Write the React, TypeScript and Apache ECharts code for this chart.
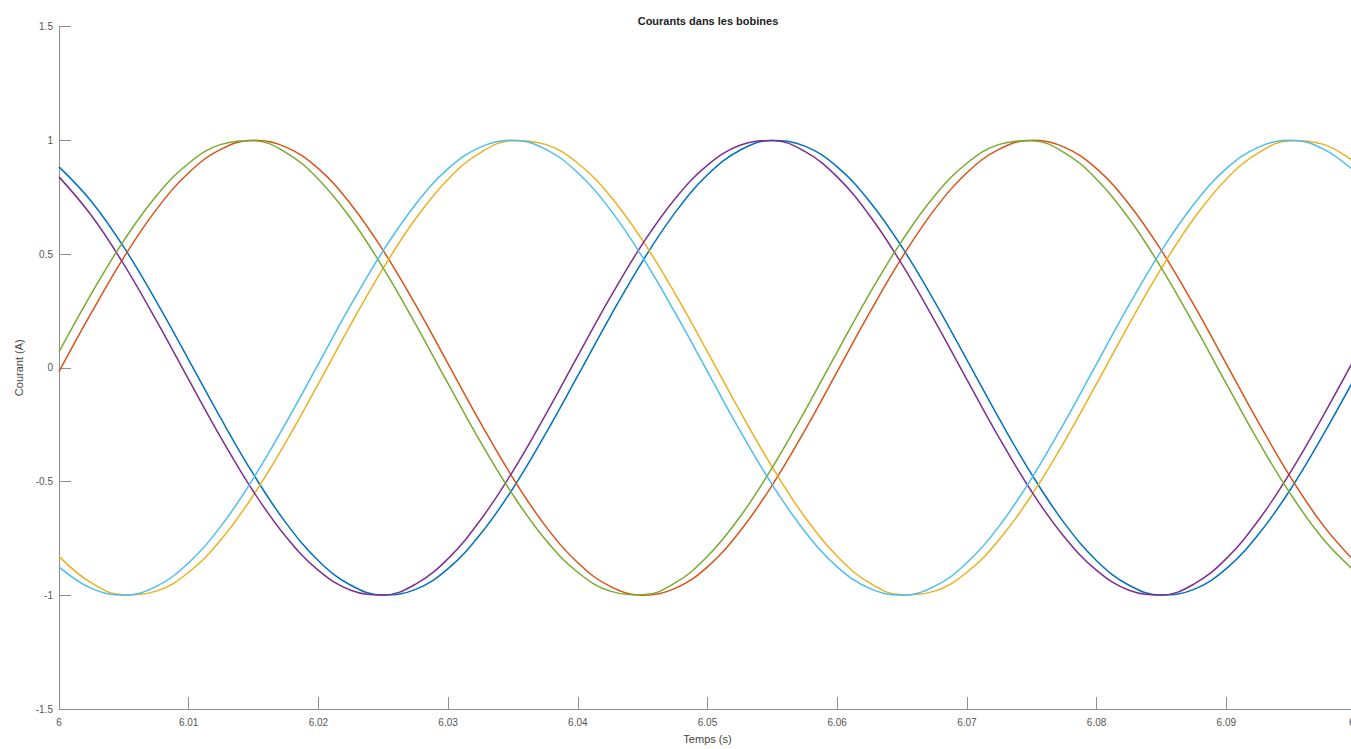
import React, { useEffect, useRef } from "react";
import * as echarts from "echarts";

const times = [
  6, 6.0025, 6.005, 6.0075, 6.01, 6.0125, 6.015, 6.0175, 6.02, 6.0225,
  6.025, 6.0275, 6.03, 6.0325, 6.035, 6.0375, 6.04, 6.0425, 6.045, 6.0475,
  6.05, 6.0525, 6.055, 6.0575, 6.06, 6.0625, 6.065, 6.0675, 6.07, 6.0725,
  6.075, 6.0775, 6.08, 6.0825, 6.085, 6.0875, 6.09, 6.0925, 6.095, 6.0975, 6.1,
];

const blueValues = [
  0.883, 0.731, 0.53, 0.292, 0.035, -0.225, -0.469, -0.682, -0.848, -0.956,
  -0.999, -0.974, -0.883, -0.731, -0.53, -0.292, -0.035, 0.225, 0.469, 0.682,
  0.848, 0.956, 0.999, 0.974, 0.883, 0.731, 0.53, 0.292, 0.035, -0.225,
  -0.469, -0.682, -0.848, -0.956, -0.999, -0.974, -0.883, -0.731, -0.53, -0.292, -0.035,
];

const orangeValues = [
  -0.017, 0.242, 0.485, 0.695, 0.857, 0.961, 1.0, 0.97, 0.875, 0.719,
  0.515, 0.276, 0.017, -0.242, -0.485, -0.695, -0.857, -0.961, -1.0, -0.97,
  -0.875, -0.719, -0.515, -0.276, -0.017, 0.242, 0.485, 0.695, 0.857, 0.961,
  1.0, 0.97, 0.875, 0.719, 0.515, 0.276, 0.017, -0.242, -0.485, -0.695, -0.857,
];

const yellowValues = [
  -0.829, -0.946, -0.998, -0.982, -0.899, -0.755, -0.559, -0.326, -0.07, 0.191,
  0.438, 0.656, 0.829, 0.946, 0.998, 0.982, 0.899, 0.755, 0.559, 0.326,
  0.07, -0.191, -0.438, -0.656, -0.829, -0.946, -0.998, -0.982, -0.899, -0.755,
  -0.559, -0.326, -0.07, 0.191, 0.438, 0.656, 0.829, 0.946, 0.998, 0.982, 0.899,
];

const purpleValues = [
  0.839, 0.669, 0.454, 0.208, -0.052, -0.309, -0.545, -0.743, -0.891, -0.978,
  -0.999, -0.951, -0.839, -0.669, -0.454, -0.208, 0.052, 0.309, 0.545, 0.743,
  0.891, 0.978, 0.999, 0.951, 0.839, 0.669, 0.454, 0.208, -0.052, -0.309,
  -0.545, -0.743, -0.891, -0.978, -0.999, -0.951, -0.839, -0.669, -0.454, -0.208, 0.052,
];

const greenValues = [
  0.07, 0.326, 0.559, 0.755, 0.899, 0.982, 0.998, 0.946, 0.829, 0.656,
  0.438, 0.191, -0.07, -0.326, -0.559, -0.755, -0.899, -0.982, -0.998, -0.946,
  -0.829, -0.656, -0.438, -0.191, 0.07, 0.326, 0.559, 0.755, 0.899, 0.982,
  0.998, 0.946, 0.829, 0.656, 0.438, 0.191, -0.07, -0.326, -0.559, -0.755, -0.899,
];

const cyanValues = [
  -0.875, -0.97, -1.0, -0.961, -0.857, -0.695, -0.485, -0.242, 0.017, 0.276,
  0.515, 0.719, 0.875, 0.97, 1.0, 0.961, 0.857, 0.695, 0.485, 0.242,
  -0.017, -0.276, -0.515, -0.719, -0.875, -0.97, -1.0, -0.961, -0.857, -0.695,
  -0.485, -0.242, 0.017, 0.276, 0.515, 0.719, 0.875, 0.97, 1.0, 0.961, 0.857,
];

const seriesNames = ["i1", "i2", "i3", "i4", "i5", "i6"];
const seriesColors = ["#0072BD", "#D95319", "#EDB120", "#7E2F8E", "#77AC30", "#4DBEEE"];
const seriesValues = [blueValues, orangeValues, yellowValues, purpleValues, greenValues, cyanValues];

const FONT = "'Liberation Sans', Arial, sans-serif";

export default function App() {
  const ref = useRef<HTMLDivElement>(null);

  useEffect(() => {
    if (!ref.current) return;
    const chart = echarts.init(ref.current, undefined, { renderer: "svg" });
    const axisLineColor = "#8f8f8f";
    const labelColor = "#555";
    chart.setOption({
      animation: false,
      backgroundColor: "#fff",
      title: {
        text: "Courants dans les bobines",
        left: "center",
        top: 10,
        textStyle: { fontFamily: FONT, fontSize: 11, fontWeight: "bold", color: "#222" },
      },
      grid: { left: 59, right: 60, top: 26.5, bottom: 39.5, containLabel: false },
      xAxis: {
        type: "value",
        min: 6,
        max: 6.1,
        interval: 0.01,
        name: "Temps (s)",
        nameLocation: "middle",
        nameGap: 24,
        nameTextStyle: { fontFamily: FONT, fontSize: 11, color: "#444" },
        axisLine: { show: true, onZero: false, lineStyle: { color: axisLineColor, width: 1 } },
        axisTick: { show: true, inside: true, length: 12, lineStyle: { color: axisLineColor } },
        axisLabel: {
          fontFamily: FONT,
          fontSize: 10,
          color: labelColor,
          margin: 8,
          formatter: (v: number) => String(Number(v.toFixed(2))),
        },
        splitLine: { show: false },
      },
      yAxis: {
        type: "value",
        min: -1.5,
        max: 1.5,
        interval: 0.5,
        name: "Courant (A)",
        nameLocation: "middle",
        nameGap: 31,
        nameRotate: 90,
        nameTextStyle: { fontFamily: FONT, fontSize: 11, color: "#444" },
        axisLine: { show: true, onZero: false, lineStyle: { color: axisLineColor, width: 1 } },
        axisTick: { show: true, inside: true, length: 12, lineStyle: { color: axisLineColor } },
        axisLabel: { fontFamily: FONT, fontSize: 10, color: labelColor, margin: 6 },
        splitLine: { show: false },
      },
      series: seriesValues.map((vals, i) => ({
        name: seriesNames[i],
        type: "line",
        data: times.map((t, k) => [t, vals[k]]),
        showSymbol: false,
        smooth: 0.4,
        clip: true,
        lineStyle: { color: seriesColors[i], width: 1.5 },
        itemStyle: { color: seriesColors[i] },
      })),
    });
    return () => chart.dispose();
  }, []);

  return (
    <div
      style={{
        position: "fixed",
        left: 0,
        top: 0,
        width: 1351,
        height: 749,
        overflow: "hidden",
        background: "#fff",
      }}
    >
      <div ref={ref} style={{ width: 1416, height: 749 }} />
    </div>
  );
}
